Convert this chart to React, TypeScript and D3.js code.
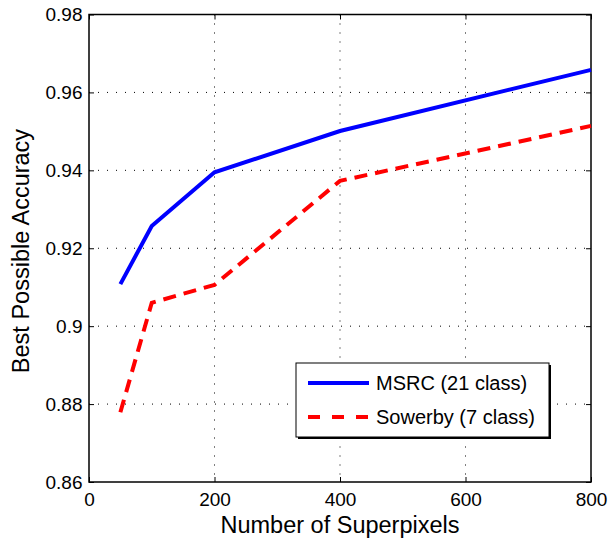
import React, { useRef, useEffect } from 'react';
import * as d3 from 'd3';

const superpixels = [50, 100, 200, 400, 800];
const msrc = [0.9108, 0.9257, 0.9395, 0.9501, 0.9658];
const sowerby = [0.8779, 0.9060, 0.9106, 0.9373, 0.9514];
const xTicks = [0, 200, 400, 600, 800];
const yTicks = [0.86, 0.88, 0.9, 0.92, 0.94, 0.96, 0.98];
const seriesNames = ['MSRC (21 class)', 'Sowerby (7 class)'];

const App = () => {
    const svgRef = useRef<SVGSVGElement>(null);

    useEffect(() => {
        const width = 611;
        const height = 538;
        const margin = { top: 14.5, right: 20, bottom: 56, left: 89 };
        const innerWidth = width - margin.left - margin.right;
        const innerHeight = height - margin.top - margin.bottom;
        const font = 'Liberation Sans, Arial, sans-serif';

        const root = d3.select(svgRef.current);
        root.selectAll('*').remove();
        root.attr('width', width).attr('height', height);

        const svg = root.append('g').attr('transform', `translate(${margin.left},${margin.top})`);

        const x = d3.scaleLinear().domain([0, 800]).range([0, innerWidth]);
        const y = d3.scaleLinear().domain([0.86, 0.98]).range([innerHeight, 0]);

        // dotted grid
        svg.append('g')
            .selectAll('line')
            .data(xTicks.slice(1, -1))
            .join('line')
            .attr('x1', d => x(d)).attr('x2', d => x(d))
            .attr('y1', 0).attr('y2', innerHeight)
            .attr('stroke', '#000').attr('stroke-width', 1)
            .attr('stroke-dasharray', '1,8');

        svg.append('g')
            .selectAll('line')
            .data(yTicks.slice(1, -1))
            .join('line')
            .attr('x1', 0).attr('x2', innerWidth)
            .attr('y1', d => y(d)).attr('y2', d => y(d))
            .attr('stroke', '#000').attr('stroke-width', 1)
            .attr('stroke-dasharray', '1,8');

        // axes with inward ticks on all sides
        const styleAxis = (g: any) => {
            g.select('.domain').remove();
            g.selectAll('text').style('font-family', font).style('font-size', '19px').attr('fill', '#000');
            g.selectAll('line').attr('stroke', '#000');
        };

        svg.append('g')
            .attr('transform', `translate(0,${innerHeight})`)
            .call(d3.axisBottom(x).tickValues(xTicks).tickSize(-5).tickPadding(11).tickFormat(d3.format('d')))
            .call(styleAxis);
        svg.append('g')
            .call(d3.axisTop(x).tickValues(xTicks).tickSize(-5).tickFormat(() => ''))
            .call(styleAxis);
        svg.append('g')
            .call(d3.axisLeft(y).tickValues(yTicks).tickSize(-5).tickPadding(6.5).tickFormat(d => d3.format('')(+d)))
            .call(styleAxis);
        svg.append('g')
            .attr('transform', `translate(${innerWidth},0)`)
            .call(d3.axisRight(y).tickValues(yTicks).tickSize(-5).tickFormat(() => ''))
            .call(styleAxis);

        svg.append('rect')
            .attr('width', innerWidth).attr('height', innerHeight)
            .attr('fill', 'none').attr('stroke', '#000').attr('stroke-width', 1.5);

        const line = d3.line<number>()
            .x((_, i) => x(superpixels[i]))
            .y(d => y(d));

        svg.append('path')
            .datum(msrc)
            .attr('fill', 'none').attr('stroke', '#0000ff')
            .attr('stroke-width', 4)
            .attr('d', line);

        svg.append('path')
            .datum(sowerby)
            .attr('fill', 'none').attr('stroke', '#ff0000')
            .attr('stroke-width', 4)
            .attr('stroke-dasharray', '13,8')
            .attr('d', line);

        // axis labels
        root.append('text')
            .attr('x', margin.left + innerWidth / 2).attr('y', 533)
            .attr('text-anchor', 'middle')
            .style('font-family', font).style('font-size', '23.5px')
            .text('Number of Superpixels');
        root.append('text')
            .attr('transform', `translate(29,251) rotate(-90)`)
            .attr('text-anchor', 'middle')
            .style('font-family', font).style('font-size', '23.5px')
            .text('Best Possible Accuracy');

        // legend
        const lg = root.append('g').attr('transform', 'translate(296,363)');
        lg.append('rect').attr('x', 2).attr('y', 2).attr('width', 253).attr('height', 74).attr('fill', '#000');
        lg.append('rect').attr('width', 253).attr('height', 74).attr('fill', '#fff').attr('stroke', '#000').attr('stroke-width', 1);
        const colors = ['#0000ff', '#ff0000'];
        const dashes = [null, '12,12'];
        seriesNames.forEach((name, i) => {
            const cy = 20 + i * 34;
            lg.append('line')
                .attr('x1', 12).attr('x2', 73).attr('y1', cy).attr('y2', cy)
                .attr('stroke', colors[i]).attr('stroke-width', 4)
                .attr('stroke-dasharray', dashes[i]);
            lg.append('text')
                .attr('x', 80).attr('y', cy + 7)
                .style('font-family', font).style('font-size', '20px')
                .text(name);
        });
    }, []);

    return <svg ref={svgRef} style={{ position: 'absolute', left: 0, top: 0 }}></svg>;
};

export default App;
